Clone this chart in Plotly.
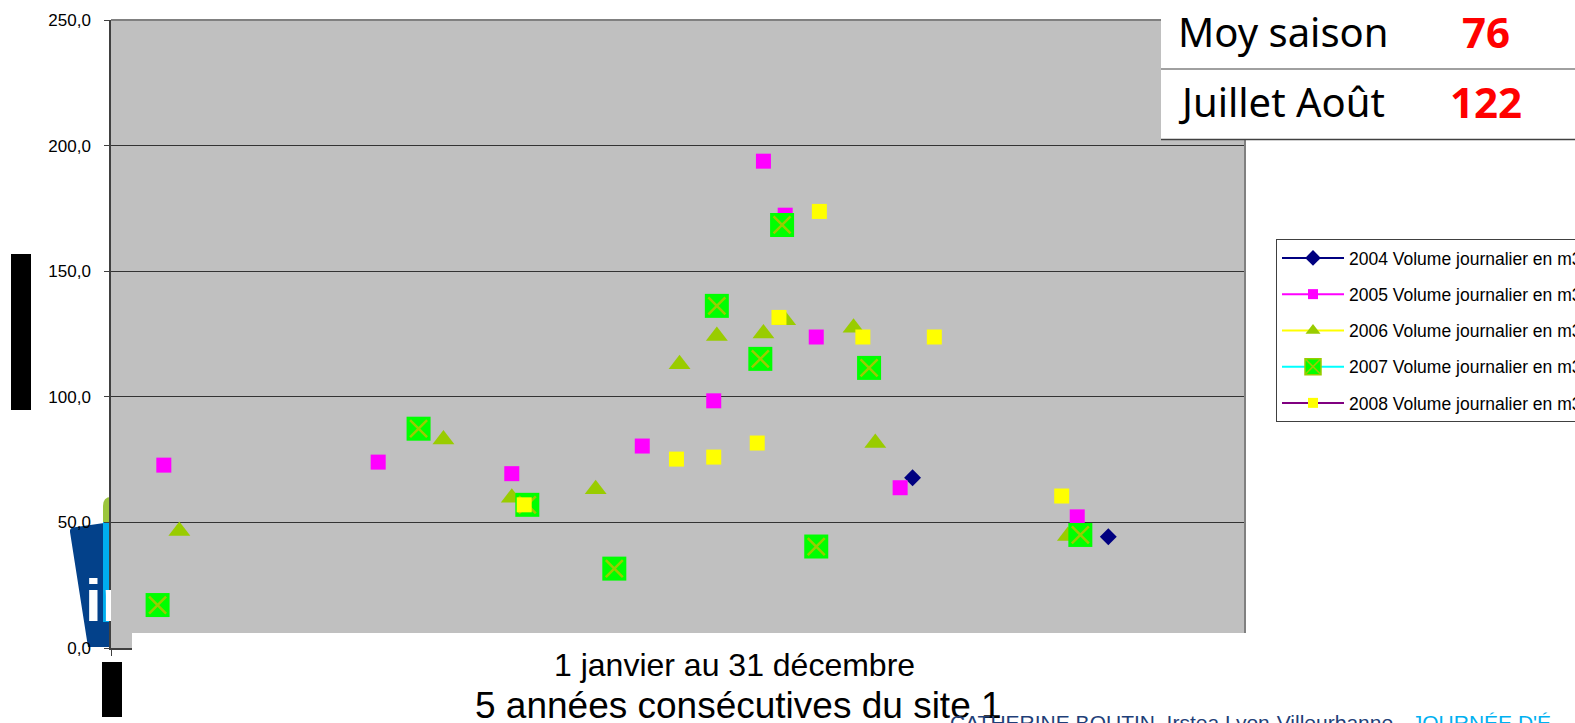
import plotly.graph_objects as go

# Daily volumes (m3) by day of year, five consecutive seasons
days_2004 = [258, 321]
vol_2004 = [67.8, 44.3]

days_2005 = [17, 86, 129, 171, 194, 210, 217, 227, 254, 311]
vol_2005 = [72.8, 74.0, 69.4, 80.4, 98.4, 193.8, 172.3, 123.8, 63.8, 52.2]

days_2006 = [22, 107, 129, 156, 183, 195, 210, 217, 239, 246, 308]
vol_2006 = [46.6, 83.0, 59.8, 63.2, 113.0, 124.2, 125.2, 130.5, 127.5, 81.6, 44.6]

days_2007 = [15, 99, 134, 162, 195, 209, 216, 227, 244, 312]
vol_2007 = [17.1, 87.3, 57.0, 31.6, 136.2, 115.1, 168.4, 40.4, 111.5, 45.0]

days_2008 = [133, 182, 194, 208, 215, 228, 242, 265, 306]
vol_2008 = [57.0, 75.2, 76.0, 81.6, 131.6, 173.8, 123.8, 123.8, 60.5]

y_ticks = [0, 50, 100, 150, 200, 250]
legend_names = [
    "2004 Volume journalier en m3",
    "2005 Volume journalier en m3",
    "2006 Volume journalier en m3",
    "2007 Volume journalier en m3",
    "2008 Volume journalier en m3",
]
stat_labels = ["Moy saison", "Juillet Août"]
stat_values = ["76", "122"]
axis_line1 = "1 janvier au 31 décembre"
axis_line2 = "5 années consécutives du site 1"

W, H = 1575, 723
L, R, T, B = 111, 1245, 20, 648  # plot area edges in pixels


def px(x):
    return (x - L) / (R - L)


def py(y):
    return (B - y) / (B - T)


GREEN_X = "#99CC00"
fig = go.Figure()

fig.add_trace(go.Scatter(x=days_2004, y=vol_2004, mode="markers", showlegend=False,
                         marker=dict(symbol="diamond", size=13, color="#000080")))
fig.add_trace(go.Scatter(x=days_2005, y=vol_2005, mode="markers", showlegend=False,
                         marker=dict(symbol="square", size=15, color="#FF00FF")))
fig.add_trace(go.Scatter(x=days_2006, y=vol_2006, mode="markers", showlegend=False,
                         marker=dict(symbol="triangle-up", size=19, color=GREEN_X)))
fig.add_trace(go.Scatter(x=days_2007, y=vol_2007, mode="markers", showlegend=False,
                         marker=dict(symbol="square", size=24, color="#00FF00")))
fig.add_trace(go.Scatter(x=days_2007, y=vol_2007, mode="markers", showlegend=False,
                         marker=dict(symbol="x-thin", size=17,
                                     line=dict(color=GREEN_X, width=2.5))))
fig.add_trace(go.Scatter(x=days_2008, y=vol_2008, mode="markers", showlegend=False,
                         marker=dict(symbol="square", size=15, color="#FFFF00")))

# Legend entries (line + marker samples)
legend_styles = [
    ("#000080", dict(symbol="diamond", size=12, color="#000080")),
    ("#FF00FF", dict(symbol="square", size=10, color="#FF00FF")),
    ("#FFFF00", dict(symbol="triangle-up", size=13, color=GREEN_X)),
    ("#00FFFF", dict(symbol="square-x", size=16, color="#00FF00",
                     line=dict(color=GREEN_X, width=1.5))),
    ("#800080", dict(symbol="square", size=10, color="#FFFF00")),
]
for i, (name, (lc, mk)) in enumerate(zip(legend_names, legend_styles)):
    fig.add_trace(go.Scatter(x=[None], y=[None], mode="lines+markers", name=name,
                             legendgroup=f"g{i}", line=dict(color=lc, width=2),
                             marker=mk))

shapes = []
# logo fragments at the left of the axis
shapes.append(dict(type="path", xref="paper", yref="paper", layer="below",
                   path=(f"M {px(73)},{py(527.5)} L {px(111)},{py(522)} L {px(111)},{py(647)} "
                         f"L {px(88)},{py(647)} L {px(70)},{py(532)} Q {px(69.5)},{py(528)} {px(73)},{py(527.5)} Z"),
                   fillcolor="#03418A", line=dict(width=0)))
shapes.append(dict(type="rect", xref="paper", yref="paper", layer="below",
                   x0=px(103), x1=px(111), y0=py(622), y1=py(522),
                   fillcolor="#00AEEF", line=dict(width=0)))
shapes.append(dict(type="path", xref="paper", yref="paper", layer="below",
                   path=(f"M {px(103)},{py(522)} L {px(103)},{py(506)} Q {px(103)},{py(497)} "
                         f"{px(111)},{py(497)} L {px(111)},{py(522)} Z"),
                   fillcolor="#9BC53D", line=dict(width=0)))
# plot border (top and right)
shapes.append(dict(type="line", xref="paper", yref="paper", x0=0, x1=1, y0=1, y1=1,
                   line=dict(color="#808080", width=2)))
shapes.append(dict(type="line", xref="paper", yref="paper", x0=1, x1=1, y0=py(633), y1=1,
                   line=dict(color="#808080", width=2)))
# white panel under the plot
shapes.append(dict(type="rect", xref="paper", yref="paper",
                   x0=px(132), x1=px(1262), y0=py(H + 5), y1=py(633),
                   fillcolor="white", line=dict(width=0)))
# summary table
shapes.append(dict(type="rect", xref="paper", yref="paper",
                   x0=px(1161), x1=px(W + 5), y0=py(140), y1=py(-5),
                   fillcolor="white", line=dict(width=0)))
shapes.append(dict(type="line", xref="paper", yref="paper", x0=px(1161), x1=px(W + 5),
                   y0=py(69), y1=py(69), line=dict(color="#808080", width=1.5)))
shapes.append(dict(type="line", xref="paper", yref="paper", x0=px(1161), x1=px(W + 5),
                   y0=py(139.5), y1=py(139.5), line=dict(color="#404040", width=1.5)))
# black bars
shapes.append(dict(type="rect", xref="paper", yref="paper", x0=px(11), x1=px(31),
                   y0=py(410), y1=py(254), fillcolor="black", line=dict(width=0)))
shapes.append(dict(type="rect", xref="paper", yref="paper", x0=px(102), x1=px(122),
                   y0=py(717), y1=py(662), fillcolor="black", line=dict(width=0)))

annotations = []
TXT = "Noto Sans"
for lab, val, yc in zip(stat_labels, stat_values, [32, 102]):
    annotations.append(dict(text=lab, xref="paper", yref="paper", x=px(1176), y=py(yc),
                            xanchor="left", yanchor="middle", showarrow=False,
                            font=dict(family=TXT, size=40, color="black")))
    annotations.append(dict(text=f"<b>{val}</b>", xref="paper", yref="paper", x=px(1486), y=py(yc),
                            xanchor="center", yanchor="middle", showarrow=False,
                            font=dict(family=TXT, size=42, color="#FF0000")))
annotations.append(dict(text=axis_line1, xref="paper", yref="paper", x=px(734), y=py(665),
                        xanchor="center", yanchor="middle", showarrow=False,
                        font=dict(family="Liberation Sans", size=32, color="black")))
annotations.append(dict(text=axis_line2, xref="paper", yref="paper", x=px(738), y=py(705),
                        xanchor="center", yanchor="middle", showarrow=False,
                        font=dict(family="Liberation Sans", size=37, color="black")))
annotations.append(dict(text="CATHERINE BOUTIN, Irstea Lyon-Villeurbanne - "
                             "<span style='color:#00B0F0'>JOURNÉE D'É</span>",
                        xref="paper", yref="paper", x=px(948), y=py(709),
                        xanchor="left", yanchor="top", showarrow=False,
                        font=dict(family="Liberation Sans", size=21, color="#1F3F78")))
annotations.append(dict(text="<b>ir</b>", xref="paper", yref="paper", x=px(83), y=py(636),
                        xanchor="left", yanchor="bottom", showarrow=False, width=26,
                        align="left",
                        font=dict(family="Liberation Sans", size=60, color="white")))

fig.update_layout(
    width=W, height=H,
    margin=dict(l=L, r=W - R, t=T, b=H - B, autoexpand=False),
    paper_bgcolor="white", plot_bgcolor="#C0C0C0",
    separators=", ",
    xaxis=dict(range=[0, 365], showgrid=False, zeroline=False, showline=True,
               linecolor="#404040", linewidth=1.5, tickvals=[0], ticks="outside",
               ticklen=6, tickcolor="#404040", showticklabels=False),
    yaxis=dict(range=[0, 250], tickvals=y_ticks, tickformat=".1f", ticks="outside",
               ticklen=5, tickcolor="#404040", showline=True, linecolor="#404040",
               linewidth=1.5, gridcolor="#333333", gridwidth=1, zeroline=False,
               ticklabelstandoff=10,
               tickfont=dict(family="Liberation Sans", size=17, color="black")),
    legend=dict(x=px(1276), y=py(239), xanchor="left", yanchor="top",
                bgcolor="white", bordercolor="#404040", borderwidth=1,
                font=dict(family="Liberation Sans", size=17.5, color="black"),
                itemwidth=62, tracegroupgap=10.5, traceorder="grouped"),
    shapes=shapes, annotations=annotations,
)

fig.write_html("out.html")
